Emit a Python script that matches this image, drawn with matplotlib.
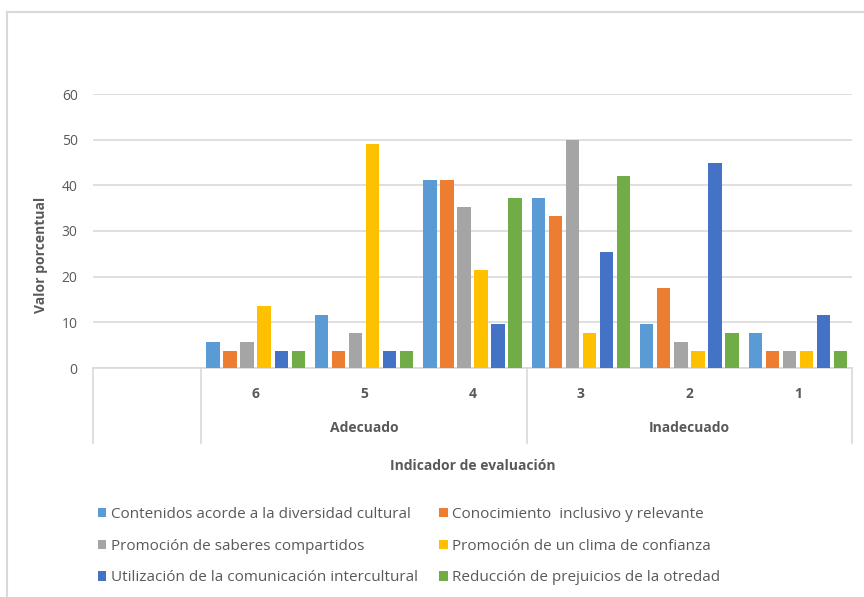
import numpy as np
import matplotlib.pyplot as plt
from matplotlib.lines import Line2D
from matplotlib.patches import Patch

# slots on the x axis (first slot is empty in the original chart)
categories = ['', '6', '5', '4', '3', '2', '1']
groups = ['Adecuado', 'Inadecuado']

series_names = [
    'Contenidos acorde a la diversidad cultural',
    'Conocimiento  inclusivo y relevante',
    'Promoción de saberes compartidos',
    'Promoción de un clima de confianza',
    'Utilización de la comunicación intercultural',
    'Reducción de prejuicios de la otredad',
]

contenidos = [0, 5.8, 11.5, 41.2, 37.2, 9.7, 7.6]
conocimiento = [0, 3.8, 3.8, 41.2, 33.2, 17.5, 3.8]
saberes = [0, 5.8, 7.6, 35.2, 50.0, 5.7, 3.8]
clima = [0, 13.6, 49.0, 21.5, 7.6, 3.8, 3.8]
comunicacion = [0, 3.8, 3.8, 9.7, 25.4, 44.9, 11.6]
prejuicios = [0, 3.8, 3.8, 37.2, 42.0, 7.6, 3.8]

colors = ['#5B9BD5', '#ED7D31', '#A5A5A5', '#FFC000', '#4472C4', '#70AD47']
values = [contenidos, conocimiento, saberes, clima, comunicacion, prejuicios]

txt = '#595959'
grid = '#D9D9D9'
main_font = ['Open Sans', 'DejaVu Sans']

fig = plt.figure(figsize=(8.64, 5.97), dpi=100)
ax = fig.add_axes([93 / 864, 1 - 368 / 597, (852 - 93) / 864, (368 - 94) / 597])

x = np.arange(len(categories))
pitch = 0.157
width = 0.123
for i, (vals, col) in enumerate(zip(values, colors)):
    ax.bar(x + (i - 2.5) * pitch, vals, width, color=col, zorder=3)

ax.set_xlim(-0.5, len(categories) - 0.5)
ax.set_ylim(0, 60)
ax.set_yticks(range(0, 61, 10))
ax.tick_params(axis='y', length=0, pad=11, labelsize=10, labelcolor=txt)
for lab in ax.get_yticklabels():
    lab.set_family(main_font)
ax.set_xticks([])
ax.yaxis.grid(True, color=grid, linewidth=1.2, zorder=0)
for s in ['top', 'right', 'left']:
    ax.spines[s].set_visible(False)
ax.spines['bottom'].set_color(grid)
ax.spines['bottom'].set_linewidth(1.2)

# multi-level category axis
trans = ax.get_xaxis_transform()
for xb in [-0.5, 0.5, 3.5, 6.5]:
    ax.plot([xb, xb], [0, -0.274], transform=trans, color=grid, lw=1.2, clip_on=False)
for xi, lab in zip(x, categories):
    ax.text(xi, -0.095, lab, transform=trans, ha='center', va='center',
            fontsize=10, color=txt, family=main_font, fontweight='bold')
ax.text(2.0, -0.22, groups[0], transform=trans, ha='center', va='center',
        fontsize=10, color=txt, family=main_font, fontweight='bold')
ax.text(5.0, -0.22, groups[1], transform=trans, ha='center', va='center',
        fontsize=10, color=txt, family=main_font, fontweight='bold')

ax.text(0.5, -0.357, 'Indicador de evaluación', transform=ax.transAxes,
        ha='center', va='center', fontsize=10, color=txt, family=main_font,
        fontweight='bold')
fig.text(41 / 864, 1 - 255 / 597, 'Valor porcentual', rotation=90, ha='center',
         va='center', fontsize=10, color=txt, family=main_font, fontweight='bold')

# legend, row-major in the picture
handles = [Patch(facecolor=c) for c in colors]
order = [0, 2, 4, 1, 3, 5]
leg = fig.legend([handles[k] for k in order], [series_names[k] for k in order],
                 ncol=2, loc='upper left', bbox_to_anchor=(84 / 864, 1 - 493 / 597),
                 frameon=False, handlelength=0.55, handleheight=0.55,
                 handletextpad=0.3, columnspacing=1.4, labelspacing=1.1,
                 prop={'family': main_font, 'size': 11})
for t in leg.get_texts():
    t.set_color(txt)

# outer chart border
fig.add_artist(Line2D([7 / 864, 1], [1 - 12 / 597, 1 - 12 / 597], color=grid, lw=1.5))
fig.add_artist(Line2D([7 / 864, 7 / 864], [0, 1 - 12 / 597], color=grid, lw=1.5))

fig.savefig('out.png', dpi=100)
